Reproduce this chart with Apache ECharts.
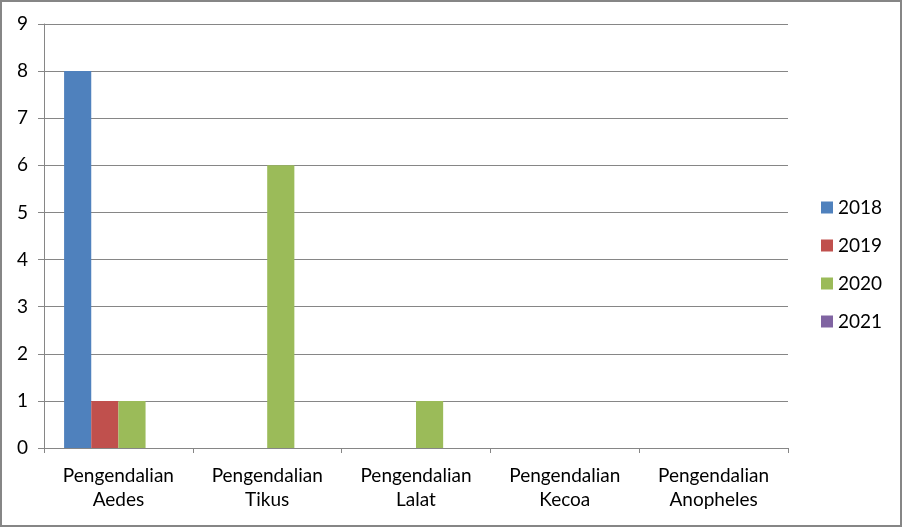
<!DOCTYPE html>
<html>
<head>
<meta charset="utf-8">
<script src="https://cdn.jsdelivr.net/npm/echarts@6/dist/echarts.min.js"></script>
<style>
  body { margin: 0; background: #fff; }
  #chart { width: 902px; height: 527px; }
</style>
</head>
<body>
<div id="chart"></div>
<script>
// data
var categories = ['Pengendalian\nAedes', 'Pengendalian\nTikus', 'Pengendalian\nLalat', 'Pengendalian\nKecoa', 'Pengendalian\nAnopheles'];
var years = ['2018', '2019', '2020', '2021'];
var v2018 = [8, 0, 0, 0, 0];
var v2019 = [1, 0, 0, 0, 0];
var v2020 = [1, 6, 1, 0, 0];
var v2021 = [0, 0, 0, 0, 0];
var colors = ['#4F81BD', '#C0504D', '#9BBB59', '#8064A2'];

var values = [v2018, v2019, v2020, v2021];
var font = 'Lato, "Open Sans", sans-serif';

var myChart = echarts.init(document.getElementById('chart'));
var option = {
  animation: false,
  color: colors,
  textStyle: { fontFamily: font },
  graphic: [{
    type: 'rect',
    shape: { x: 1, y: 1, width: 900, height: 525 },
    style: { fill: 'none', stroke: '#868686', lineWidth: 2 },
    silent: true
  }],
  legend: {
    orient: 'vertical',
    left: 816,
    top: 193,
    icon: 'rect',
    itemWidth: 12,
    itemHeight: 12,
    itemGap: 19,
    textStyle: { fontSize: 19, color: '#000', fontFamily: font },
    data: years
  },
  grid: { left: 44, top: 24, right: 114, bottom: 79 },
  xAxis: {
    type: 'category',
    data: categories,
    axisLine: { lineStyle: { color: '#868686', width: 1 } },
    axisTick: { show: true, length: 5, lineStyle: { color: '#868686' } },
    axisLabel: { color: '#000', fontSize: 19, lineHeight: 24, margin: 16, fontFamily: font, interval: 0 }
  },
  yAxis: {
    type: 'value',
    min: 0,
    max: 9,
    interval: 1,
    axisLine: { show: true, lineStyle: { color: '#868686' } },
    axisTick: { show: true, length: 6, lineStyle: { color: '#868686' } },
    axisLabel: { color: '#000', fontSize: 19, margin: 16, fontFamily: font },
    splitLine: { lineStyle: { color: '#868686', width: 1 } }
  },
  series: years.map(function (y, i) {
    return {
      name: y,
      type: 'bar',
      data: values[i],
      barGap: '0%',
      barCategoryGap: '27%',
      itemStyle: { color: colors[i] }
    };
  })
};
myChart.setOption(option);
</script>
</body>
</html>
